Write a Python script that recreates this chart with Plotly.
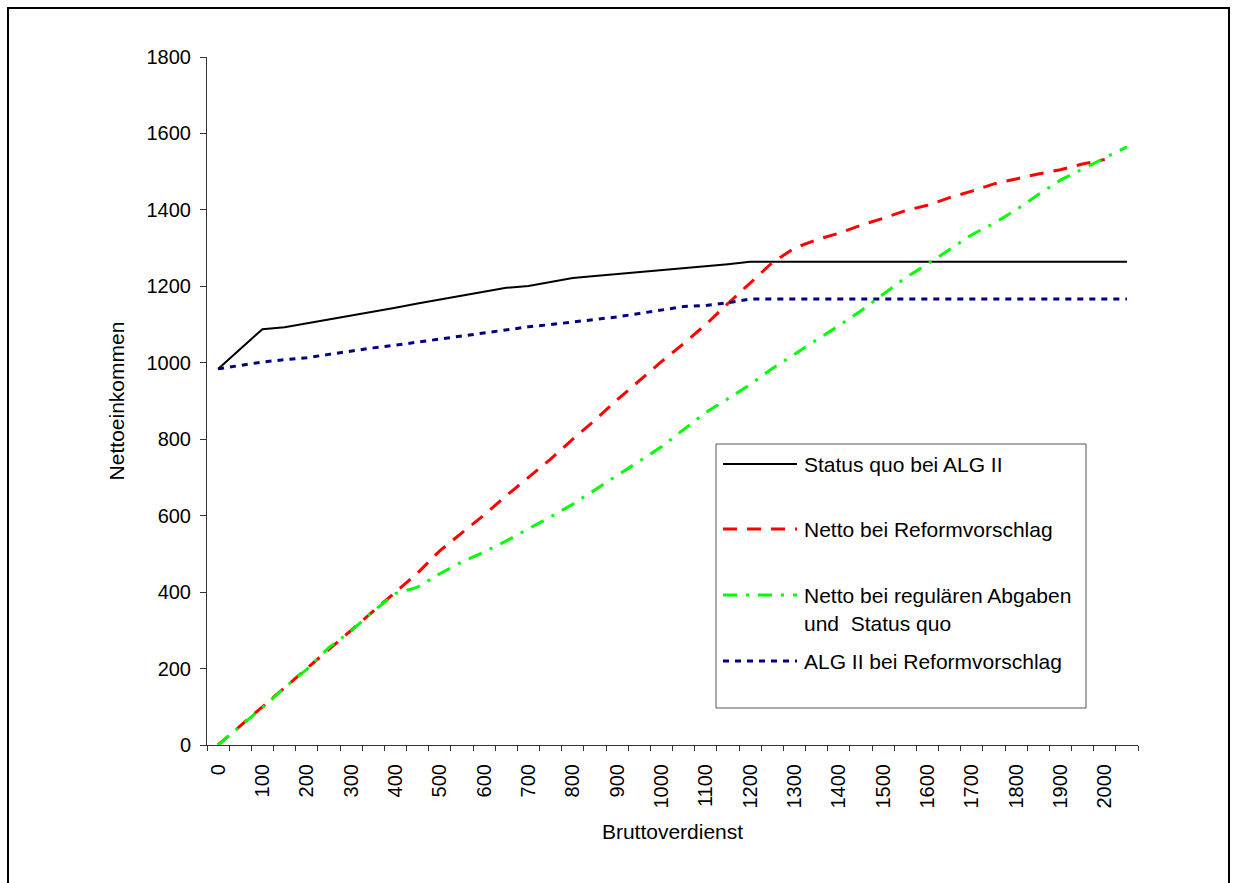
import plotly.graph_objects as go

# Gross monthly earnings (category axis, step 50)
gross = [0, 50, 100, 150, 200, 250, 300, 350, 400, 450, 500, 550, 600, 650, 700,
         750, 800, 850, 900, 950, 1000, 1050, 1100, 1150, 1200, 1250, 1300, 1350,
         1400, 1450, 1500, 1550, 1600, 1650, 1700, 1750, 1800, 1850, 1900, 1950,
         2000, 2050]

# Net income, status quo with ALG II
status_quo = [984, 1036, 1088, 1093, 1103, 1114, 1124, 1134, 1144, 1155, 1165,
              1175, 1185, 1196, 1201, 1212, 1222, 1227, 1232, 1238, 1243, 1248,
              1253, 1258, 1264, 1264, 1264, 1264, 1264, 1264, 1264, 1264, 1264,
              1264, 1264, 1264, 1264, 1264, 1264, 1264, 1264, 1264]

# Net income under the reform proposal
netto_reform = [0, 50, 100, 152, 200, 250, 300, 352, 400, 450, 508, 555, 602, 652,
                700, 748, 800, 850, 903, 953, 1003, 1050, 1100, 1155, 1208, 1262,
                1300, 1322, 1339, 1360, 1378, 1398, 1412, 1432, 1449, 1468, 1481,
                1494, 1505, 1520, 1532, None]

# Net income with regular deductions and status quo
netto_regular = [0, 48, 98, 150, 198, 255, 298, 350, 396, 413, 448, 479, 505, 534,
                 565, 597, 630, 667, 706, 742, 780, 825, 870, 906, 943, 985, 1022,
                 1060, 1097, 1136, 1180, 1222, 1258, 1296, 1335, 1365, 1400, 1440,
                 1478, 1507, 1535, 1565]

# ALG II under the reform proposal
alg2_reform = [984, 994, 1002, 1008, 1013, 1022, 1031, 1039, 1046, 1054, 1062, 1070,
               1078, 1086, 1094, 1100, 1106, 1113, 1120, 1129, 1138, 1147, 1150,
               1157, 1167, 1167, 1167, 1167, 1167, 1167, 1167, 1167, 1167, 1167,
               1167, 1167, 1167, 1167, 1167, 1167, 1167, 1167]

x_ticks = [0, 100, 200, 300, 400, 500, 600, 700, 800, 900, 1000, 1100, 1200, 1300,
           1400, 1500, 1600, 1700, 1800, 1900, 2000]
y_ticks = [0, 200, 400, 600, 800, 1000, 1200, 1400, 1600, 1800]

series = [
    ("Status quo bei ALG II", status_quo, dict(color="#000000", width=2, dash="solid")),
    ("Netto bei Reformvorschlag", netto_reform, dict(color="#FF0000", width=3, dash="14px,10px")),
    ("Netto bei regulären Abgaben und Status quo", netto_regular,
     dict(color="#00FF00", width=3, dash="14px,9px,3px,9px")),
    ("ALG II bei Reformvorschlag", alg2_reform, dict(color="#000080", width=3, dash="6px,6px")),
]

W, H = 1234, 883
ML, MR, MT, MB = 207, 96, 57, 138
PW, PH = W - ML - MR, H - MT - MB


def px(x):
    return (x - ML) / PW


def py(y):
    return (H - MB - y) / PH


FONT = "Liberation Sans, Arial, sans-serif"
AXIS_COLOR = "#333333"

fig = go.Figure()
for name, values, style in series:
    fig.add_trace(go.Scatter(x=gross, y=values, mode="lines", name=name,
                             line=style, showlegend=False, connectgaps=False))

shapes = []
annotations = []

# outer frame
shapes.append(dict(type="rect", xref="paper", yref="paper",
                   x0=px(8), x1=px(1229), y0=py(895), y1=py(8),
                   line=dict(color="#000000", width=2), layer="below"))

# legend box
shapes.append(dict(type="rect", xref="paper", yref="paper",
                   x0=px(716), x1=px(1086), y0=py(708), y1=py(444),
                   line=dict(color="#555555", width=1), fillcolor="white"))

legend_rows = [
    (464, series[0][2], ["Status quo bei ALG II"]),
    (529, series[1][2], ["Netto bei Reformvorschlag"]),
    (595, series[2][2], ["Netto bei regulären Abgaben", "und\u00a0 Status quo"]),
    (661, series[3][2], ["ALG II bei Reformvorschlag"]),
]
for ry, style, lines in legend_rows:
    shapes.append(dict(type="line", xref="paper", yref="paper",
                       x0=px(723), x1=px(797), y0=py(ry), y1=py(ry),
                       line=dict(color=style["color"], width=style["width"],
                                 dash=style["dash"])))
    for k, txt in enumerate(lines):
        annotations.append(dict(xref="paper", yref="paper", x=px(802),
                                y=py(ry + 28 * k), text=txt, showarrow=False,
                                xanchor="left", yanchor="middle",
                                font=dict(family=FONT, size=21, color="#000000")))

fig.update_layout(
    width=W, height=H,
    margin=dict(l=ML, r=MR, t=MT, b=MB, pad=0),
    paper_bgcolor="white", plot_bgcolor="white",
    font=dict(family=FONT, size=20, color="#000000"),
    shapes=shapes, annotations=annotations,
    xaxis=dict(
        range=[-25, 2075], tickmode="array", tickvals=x_ticks,
        ticktext=[str(v) for v in x_ticks], tickangle=-90, ticks="",
        ticklabelstandoff=10,
        showline=True, linecolor=AXIS_COLOR, linewidth=1,
        showgrid=False, zeroline=False,
        minor=dict(tickmode="linear", tick0=-25, dtick=50, ticks="outside",
                   ticklen=5, tickwidth=1, tickcolor=AXIS_COLOR, showgrid=False),
        title=dict(text="Bruttoverdienst", standoff=16,
                   font=dict(family=FONT, size=21)),
    ),
    yaxis=dict(
        range=[0, 1800], tickmode="array", tickvals=y_ticks,
        ticks="outside", ticklen=6, tickwidth=1, tickcolor=AXIS_COLOR,
        ticklabelstandoff=5,
        showline=True, linecolor=AXIS_COLOR, linewidth=1,
        showgrid=False, zeroline=False,
        title=dict(text="Nettoeinkommen", standoff=16,
                   font=dict(family=FONT, size=21)),
    ),
)

fig.write_html("out.html")
